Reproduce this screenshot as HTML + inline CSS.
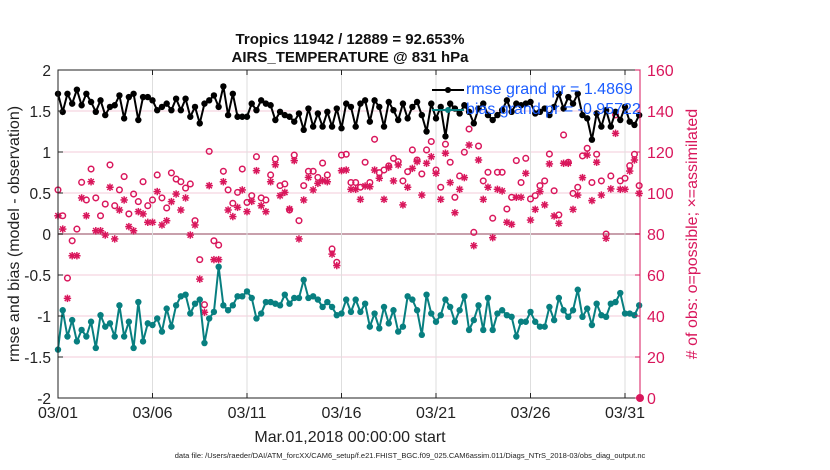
<!DOCTYPE html>
<html><head><meta charset="utf-8">
<style>
body{margin:0;background:#fff;}
svg{display:block;font-family:"Liberation Sans",Arial,sans-serif;}
</style></head>
<body>
<svg id="chart" width="830" height="470" viewBox="0 0 830 470"></svg>
<script>
const dayTicks = ["03/01","03/06","03/11","03/16","03/21","03/26","03/31"];
const leftTicks = [-2,-1.5,-1,-0.5,0,0.5,1,1.5,2];
const rightTicks = [0,20,40,60,80,100,120,140,160];
const rmse = [1.71,1.49,1.71,1.59,1.76,1.57,1.71,1.61,1.49,1.63,1.45,1.55,1.57,1.69,1.41,1.67,1.71,1.39,1.67,1.67,1.63,1.51,1.55,1.59,1.51,1.65,1.51,1.65,1.43,1.55,1.35,1.59,1.63,1.69,1.55,1.80,1.45,1.71,1.43,1.43,1.43,1.59,1.51,1.63,1.59,1.57,1.39,1.49,1.45,1.43,1.37,1.47,1.27,1.53,1.31,1.47,1.31,1.49,1.31,1.53,1.29,1.59,
1.55,1.31,1.59,1.63,1.37,1.63,1.55,1.31,1.61,1.51,1.39,1.59,1.41,1.55,1.61,1.45,1.25,1.59,1.41,1.55,1.19,1.59,1.53,1.47,1.57,1.49,1.35,1.53,1.59,1.45,1.39,1.45,1.51,1.63,1.49,1.59,1.57,1.59,1.61,1.47,1.49,1.53,1.45,1.55,1.71,1.53,1.67,1.59,1.71,1.45,1.41,1.15,1.47,1.31,1.51,1.31,1.49,1.39,1.55,1.37,1.33,1.45];
const bias = [-1.41,-0.93,-1.25,-1.05,-1.31,-1.17,-1.25,-1.07,-1.39,-0.99,-1.13,-1.09,-1.25,-0.87,-1.25,-1.07,-1.39,-0.83,-1.31,-1.09,-1.11,-1.03,-1.19,-0.91,-1.13,-0.87,-0.76,-0.74,-0.97,-0.85,-0.80,-1.33,-1.03,-0.95,-0.40,-0.87,-0.93,-0.87,-0.76,-0.76,-0.70,-0.78,-1.03,-0.97,-0.83,-0.83,-0.85,-0.87,-0.74,-0.85,-0.78,-0.78,-0.56,-0.78,-0.76,-0.80,-0.89,-0.83,-0.89,-0.99,-0.97,-0.80,-0.95,
-0.80,-0.95,-0.85,-1.13,-0.97,-1.15,-0.89,-1.09,-0.93,-1.19,-1.13,-0.76,-0.80,-0.93,-1.23,-0.74,-0.97,-1.07,-0.99,-0.80,-0.89,-1.07,-0.93,-0.76,-1.17,-1.05,-0.87,-1.17,-0.78,-1.17,-0.97,-0.93,-0.99,-1.01,-1.25,-1.07,-1.07,-0.95,-1.07,-1.13,-1.13,-0.89,-1.05,-0.78,-0.93,-1.01,-0.93,-0.68,-1.01,-0.91,-1.11,-0.85,-0.99,-1.01,-0.85,-0.83,-0.72,-0.97,-0.97,-0.99,-0.87];
const nPossible = [101.5,88.9,58.5,76.7,82.4,105.2,96.6,111.7,97.6,88.9,94.6,113.7,93.8,101.5,108.0,89.8,99.5,95.8,105.5,93.8,96.6,108.8,97.6,92.7,109.8,106.8,105.5,102.4,104.4,86.5,67.5,45.5,120.3,76.7,74.6,110.6,101.5,95.0,100.3,111.7,95.4,98.7,117.7,97.6,96.6,108.8,116.6,103.6,104.4,91.7,118.5,86.5,103.6,110.6,110.6,107.6,114.6,108.8,72.7,66.2,118.5,
118.9,105.1,105.1,102.8,115.0,105.1,126.2,109.9,111.2,113.2,116.9,115.3,105.9,110.4,121.0,116.1,109.3,121.0,125.1,111.2,102.8,123.8,115.0,97.9,108.3,119.9,131.2,80.8,122.9,105.9,110.1,87.7,110.1,110.1,92.2,97.9,115.8,105.1,116.9,97.1,98.7,103.6,105.9,119.0,101.1,89.3,128.3,115.0,99.8,102.8,118.1,121.8,105.1,118.9,105.9,80.0,108.3,138.1,105.9,107.2,113.3,118.9,103.6];
const nAssim = [88.9,82.4,48.6,69.4,69.4,97.6,88.9,105.5,81.6,81.6,79.5,102.8,77.6,91.7,96.6,83.6,81.6,90.9,89.8,85.7,85.7,100.7,84.4,86.5,95.8,99.5,91.7,97.6,79.5,84.4,58.0,41.8,103.6,67.5,67.5,105.5,91.7,88.5,93.0,101.5,90.9,95.9,110.9,93.8,90.9,105.5,113.8,98.7,100.3,92.2,115.8,77.6,96.6,107.6,101.5,104.7,106.0,105.5,70.2,64.6,110.9,
111.2,101.8,101.8,96.9,103.4,103.1,111.2,107.2,96.9,112.5,105.9,113.7,94.2,102.8,112.0,115.3,99.0,114.5,117.7,109.6,96.9,119.4,105.1,90.4,101.8,107.5,123.4,74.3,116.1,96.9,102.8,78.2,101.8,101.0,85.7,84.7,97.9,97.9,109.6,86.8,92.0,100.7,94.2,114.2,88.8,85.2,114.5,114.5,92.0,99.0,107.5,118.5,96.3,115.0,99.0,77.9,102.0,129.1,101.8,101.8,110.7,116.1,99.8];

const NS='http://www.w3.org/2000/svg';
const svg=document.getElementById('chart');
const L=58,R=640,T=70,B=398;
const dayPx=(625-58)/30;
const xT=i=>L+i*dayPx/4;
const xDay=d=>L+d*dayPx;
const yL=v=>T+(2-v)*(B-T)/4;
const yR=c=>B-c*(B-T)/160;
const MAG='#d9175c',TEAL='#087f80';
function mk(tag,attrs,parent){const e=document.createElementNS(NS,tag);for(const k in attrs)e.setAttribute(k,attrs[k]);(parent||svg).appendChild(e);return e;}

const grid=mk('g',{});


leftTicks.forEach(v=>{mk('line',{x1:L,x2:R,y1:yL(v),y2:yL(v),stroke:v===0?'#c8a0ac':'#f3cbd8','stroke-width':v===0?2:1},grid);});
dayTicks.forEach((t,k)=>{const x=xDay(k*5);mk('line',{x1:x,x2:x,y1:T,y2:B,stroke:'#dedede','stroke-width':1},grid);});

const cnt=mk('g',{});


nPossible.forEach((c,i)=>{const e=mk('circle',{cx:xT(i),cy:yR(c),r:2.8,fill:'none',stroke:MAG,'stroke-width':1.5},cnt);

});
nAssim.forEach((c,i)=>{const x=xT(i),y=yR(c);const g=mk('g',{stroke:MAG,'stroke-width':1.5},cnt);


[[0,3.7],[3.7,0],[2.7,2.7],[2.7,-2.7]].forEach(([dx,dy])=>mk('line',{x1:x-dx,y1:y-dy,x2:x+dx,y2:y+dy},g));});

function series(arr,color,name){
 const g=mk('g',{});
 
 
 mk('polyline',{points:arr.map((v,i)=>xT(i)+','+yL(v)).join(' '),fill:'none',stroke:color,'stroke-width':2},g);
 arr.forEach((v,i)=>mk('circle',{cx:xT(i),cy:yL(v),r:3.2,fill:color},g));
}
series(bias,TEAL,'bias-series');
series(rmse,'#000','rmse-series');

const ax=mk('g',{});


mk('rect',{x:L,y:T,width:R-L,height:B-T,fill:'none',stroke:'#222','stroke-width':1},ax);
mk('line',{x1:R,x2:R,y1:T,y2:B,stroke:MAG,'stroke-width':1},ax);
leftTicks.forEach(v=>{const y=yL(v);mk('line',{x1:L,x2:L+5,y1:y,y2:y,stroke:'#222'},ax);
 const t=mk('text',{x:L-7,y:y+6,'text-anchor':'end','font-size':15.5,fill:'#222'},ax);t.textContent=String(v);
 });
rightTicks.forEach(c=>{const y=yR(c);mk('line',{x1:R-5,x2:R,y1:y,y2:y,stroke:MAG},ax);
 const t=mk('text',{x:R+7,y:y+6,'font-size':16,fill:MAG},ax);t.textContent=String(c);
 });
dayTicks.forEach((d,k)=>{const x=xDay(k*5);mk('line',{x1:x,x2:x,y1:B-5,y2:B,stroke:'#222'},ax);mk('line',{x1:x,x2:x,y1:T,y2:T+5,stroke:'#222'},ax);
 const t=mk('text',{x:x,y:B+20,'text-anchor':'middle','font-size':16,fill:'#222'},ax);t.textContent=d;
 });
const dot=mk('circle',{cx:R,cy:B,r:4,fill:MAG},ax);


</script>
<div style="position:absolute;left:0;top:0;width:830px;height:470px;pointer-events:none;font-family:'Liberation Sans',Arial,sans-serif;">
 <div style="position:absolute;left:200px;width:300px;top:31px;text-align:center;font-weight:bold;font-size:15px;line-height:18px;color:#111;">Tropics 11942 / 12889 = 92.653%<br>AIRS_TEMPERATURE @ 831 hPa</div>
 <div style="position:absolute;left:-120px;top:225px;width:270px;text-align:center;font-size:16px;color:#222;transform:rotate(-90deg);">rmse and bias (model - observation)</div>
 <div style="position:absolute;left:558px;top:225px;width:270px;text-align:center;font-size:16px;color:#d9175c;transform:rotate(-90deg);"># of obs: o=possible; &#215;=assimilated</div>
 <div style="position:absolute;left:200px;width:300px;top:429px;text-align:center;font-size:16px;color:#222;">Mar.01,2018 00:00:00 start</div>
 <div style="position:absolute;left:60px;width:700px;top:451px;text-align:center;font-size:7.5px;color:#222;">data file: /Users/raeder/DAI/ATM_forcXX/CAM6_setup/f.e21.FHIST_BGC.f09_025.CAM6assim.011/Diags_NTrS_2018-03/obs_diag_output.nc</div>
 <div style="position:absolute;left:432px;top:80px;font-size:16px;color:#1a5cff;line-height:20px;">
  <div style="position:relative;padding-left:34px;white-space:nowrap;"><span style="position:absolute;left:0;top:9px;width:32px;height:2px;background:#000;"></span><span style="position:absolute;left:13px;top:7px;width:6px;height:6px;border-radius:50%;background:#000;"></span>rmse grand pr = 1.4869</div>
  <div style="position:relative;padding-left:34px;white-space:nowrap;"><span style="position:absolute;left:0;top:9px;width:32px;height:2px;background:#087f80;"></span><span style="position:absolute;left:13px;top:7px;width:6px;height:6px;border-radius:50%;background:#087f80;"></span>bias grand pr = -0.95722</div>
 </div>
</div>
</body></html>
